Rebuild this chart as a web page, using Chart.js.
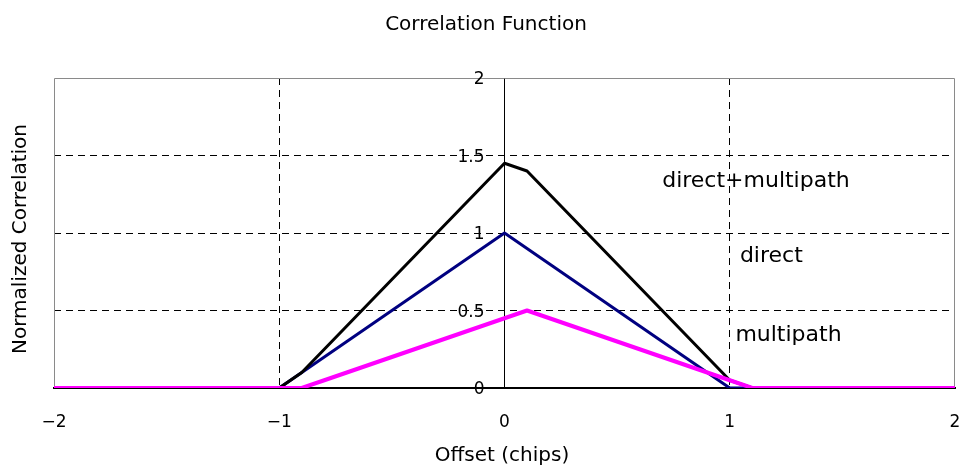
<!DOCTYPE html>
<html>
<head>
<meta charset="utf-8">
<title>Correlation Function</title>
<script src="https://cdn.jsdelivr.net/npm/chart.js@4.4.1/dist/chart.umd.min.js"></script>
<style>
  html, body { margin: 0; padding: 0; background: #ffffff; }
  #wrap { width: 961px; height: 466px; }
</style>
</head>
<body>
<div id="wrap"><canvas id="chart" width="961" height="466"></canvas></div>
<script>
// Offset (chips) sample positions
const offsets = [-2, -1, -0.9, -0.8, -0.7, -0.6, -0.5, -0.4, -0.3, -0.2, -0.1, 0,
                 0.1, 0.2, 0.3, 0.4, 0.5, 0.6, 0.7, 0.8, 0.9, 1, 1.1, 2];

// Normalized correlation of each component
const direct = [0, 0, 0.1, 0.2, 0.3, 0.4, 0.5, 0.6, 0.7, 0.8, 0.9, 1,
                0.9, 0.8, 0.7, 0.6, 0.5, 0.4, 0.3, 0.2, 0.1, 0, 0, 0];
const multipath = [0, 0, 0, 0.05, 0.1, 0.15, 0.2, 0.25, 0.3, 0.35, 0.4, 0.45,
                   0.5, 0.45, 0.4, 0.35, 0.3, 0.25, 0.2, 0.15, 0.1, 0.05, 0, 0];
const combined = [0, 0, 0.1, 0.25, 0.4, 0.55, 0.7, 0.85, 1.0, 1.15, 1.3, 1.45,
                  1.4, 1.25, 1.1, 0.95, 0.8, 0.65, 0.5, 0.35, 0.2, 0.05, 0, 0];

// Tick values
const xTicks = [-2, -1, 0, 1, 2];
const yTicks = [0, 0.5, 1, 1.5, 2];

// Texts
const chartTitle = 'Correlation Function';
const xTitle = 'Offset (chips)';
const yTitle = 'Normalized Correlation';
const curveLabels = ['direct+multipath', 'direct', 'multipath'];

// Where the curve labels sit, in axis units (left edge, baseline)
const curveLabelAnchors = [
  { x: 0.70, y: 1.30 },
  { x: 1.045, y: 0.815 },
  { x: 1.025, y: 0.305 }
];

const FONT = '"DejaVu Sans", "Liberation Sans", sans-serif';

function fmtTick(v) {
  return v < 0 ? '\u2212' + String(Math.abs(v)) : String(v);
}

function toPoints(ys) {
  return offsets.map((x, i) => ({ x: x, y: ys[i] }));
}

const textPlugin = {
  id: 'chartTexts',
  beforeDatasetsDraw(chart) {
    // grey frame of the plot area
    const { ctx, chartArea: a } = chart;
    ctx.save();
    ctx.strokeStyle = '#8a8a8a';
    ctx.lineWidth = 1;
    ctx.beginPath();
    ctx.moveTo(Math.round(a.left) + 0.5, Math.round(a.bottom));
    ctx.lineTo(Math.round(a.left) + 0.5, Math.round(a.top) + 0.5);
    ctx.lineTo(Math.round(a.right) - 0.5, Math.round(a.top) + 0.5);
    ctx.lineTo(Math.round(a.right) - 0.5, Math.round(a.bottom));
    ctx.stroke();
    ctx.restore();
  },
  afterDraw(chart) {
    const { ctx } = chart;
    const xs = chart.scales.x, ys = chart.scales.y;
    ctx.save();
    ctx.fillStyle = '#000';

    // y tick labels beside the vertical axis at offset 0
    ctx.font = '17px ' + FONT;
    ctx.textAlign = 'right';
    ctx.textBaseline = 'middle';
    const x0 = xs.getPixelForValue(0);
    yTicks.forEach(v => {
      ctx.fillText(fmtTick(v), x0 - 20, ys.getPixelForValue(v) + 2);
    });

    ctx.font = '20px ' + FONT;
    ctx.textAlign = 'center';
    ctx.textBaseline = 'alphabetic';
    ctx.fillText(chartTitle, 486, 30);
    ctx.fillText(xTitle, 502, 461);

    ctx.save();
    ctx.translate(26, 239);
    ctx.rotate(-Math.PI / 2);
    ctx.fillText(yTitle, 0, 0);
    ctx.restore();

    ctx.font = '22px ' + FONT;
    ctx.textAlign = 'left';
    curveLabels.forEach((t, i) => {
      const p = curveLabelAnchors[i];
      ctx.fillText(t, xs.getPixelForValue(p.x), ys.getPixelForValue(p.y));
    });
    ctx.restore();
  }
};

const dash = [7, 5];

new Chart(document.getElementById('chart'), {
  type: 'line',
  data: {
    datasets: [
      { label: 'direct', data: toPoints(direct), borderColor: '#000080', borderWidth: 3, order: 2 },
      { label: 'direct+multipath', data: toPoints(combined), borderColor: '#000000', borderWidth: 3, order: 1 },
      { label: 'multipath', data: toPoints(multipath), borderColor: '#ff00ff', borderWidth: 4, order: 0 }
    ].map(d => Object.assign(d, {
      pointRadius: 0, pointHoverRadius: 0, tension: 0, fill: false,
      borderJoinStyle: 'round', clip: 0
    }))
  },
  options: {
    responsive: false,
    animation: false,
    devicePixelRatio: 1,
    events: [],
    layout: { padding: { left: 54, right: 6, top: 78, bottom: 0 } },
    plugins: {
      legend: { display: false },
      tooltip: { enabled: false },
      title: { display: false }
    },
    scales: {
      x: {
        type: 'linear',
        position: 'bottom',
        min: xTicks[0],
        max: xTicks[xTicks.length - 1],
        afterBuildTicks: s => { s.ticks = xTicks.map(v => ({ value: v })); },
        afterFit: s => { s.height = 78; s.paddingLeft = 0; s.paddingRight = 0; },
        ticks: {
          color: '#000',
          font: { family: FONT, size: 17 },
          padding: 24,
          maxRotation: 0,
          callback: v => fmtTick(v)
        },
        grid: {
          drawTicks: false,
          lineWidth: 1,
          color: c => (c.tick && Math.abs(c.tick.value) === 1) ? '#000' : 'rgba(0,0,0,0)'
        },
        border: { display: true, color: '#000', width: 2, dash: dash }
      },
      y: {
        type: 'linear',
        position: { x: 0 },
        min: yTicks[0],
        max: yTicks[yTicks.length - 1],
        afterBuildTicks: s => { s.ticks = yTicks.map(v => ({ value: v })); },
        afterFit: s => { s.width = 0; s.paddingTop = 0; s.paddingBottom = 0; },
        ticks: { display: false },
        grid: {
          drawTicks: false,
          lineWidth: 1,
          color: c => (c.tick && c.tick.value > 0 && c.tick.value < 2) ? '#000' : 'rgba(0,0,0,0)'
        },
        border: { display: true, color: '#000', width: 1, dash: dash }
      }
    }
  },
  plugins: [textPlugin]
});
</script>
</body>
</html>
